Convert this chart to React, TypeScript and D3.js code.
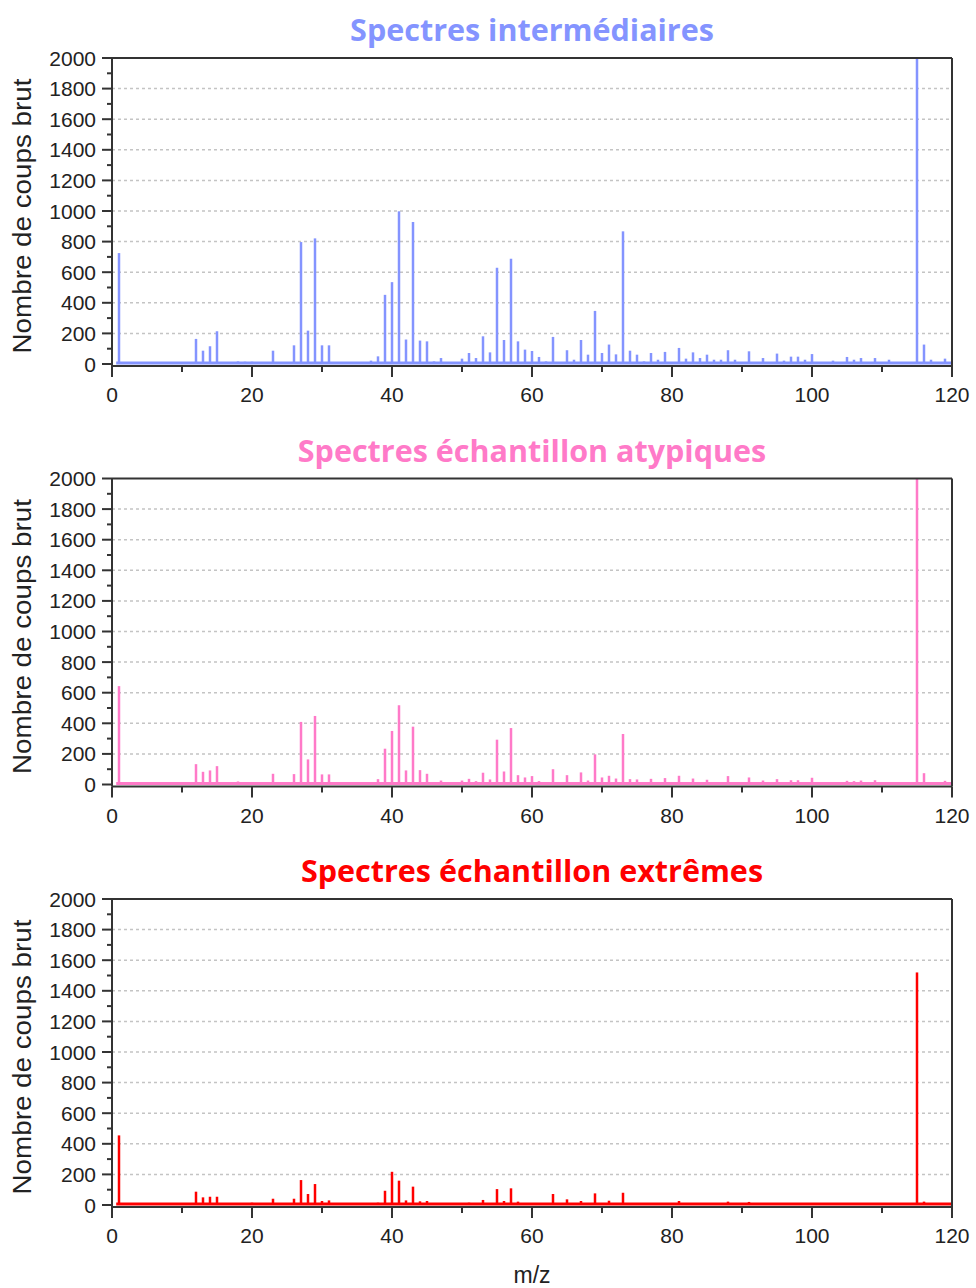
import React from "react";
import * as d3 from "d3";

// ---- data ----
const panelTitles = [
  "Spectres intermédiaires",
  "Spectres échantillon atypiques",
  "Spectres échantillon extrêmes",
];
const seriesColors = ["#8494ff", "#ff7ac8", "#ff0000"];

const xTicksMajor = [0, 20, 40, 60, 80, 100, 120];
const yTicksMajor = [0, 200, 400, 600, 800, 1000, 1200, 1400, 1600, 1800, 2000];
const yAxisTitle = "Nombre de coups brut";
const xAxisTitle = "m/z";

// [m/z, counts]
const intermediateSpectrum: [number, number][] = [
  [1, 725], [12, 164], [13, 87], [14, 116], [15, 214], [18, 17], [19, 15], [20, 15],
  [23, 87], [24, 12], [25, 12], [26, 122], [27, 797], [28, 218], [29, 821], [30, 122],
  [31, 122], [37, 22], [38, 50], [39, 452], [40, 535], [41, 998], [42, 160], [43, 928],
  [44, 153], [45, 148], [46, 17], [47, 39], [50, 35], [51, 72], [52, 39], [53, 181],
  [54, 76], [55, 629], [56, 157], [57, 688], [58, 148], [59, 94], [60, 85], [61, 46],
  [62, 17], [63, 177], [65, 90], [66, 28], [67, 157], [68, 61], [69, 347], [70, 72],
  [71, 127], [72, 63], [73, 867], [74, 87], [75, 61], [76, 17], [77, 72], [78, 28],
  [79, 79], [81, 105], [82, 35], [83, 76], [84, 39], [85, 61], [86, 28], [87, 28],
  [88, 90], [89, 28], [91, 83], [93, 39], [95, 68], [96, 22], [97, 48], [98, 48],
  [99, 28], [100, 65], [103, 22], [105, 46], [106, 28], [107, 39], [109, 39], [111, 28],
  [115, 2000], [116, 127], [117, 28], [119, 35],
];

const atypicalSpectrum: [number, number][] = [
  [1, 643], [12, 133], [13, 83], [14, 92], [15, 120], [18, 20], [19, 15], [20, 15],
  [23, 70], [26, 68], [27, 409], [28, 164], [29, 448], [30, 66], [31, 66], [38, 35],
  [39, 234], [40, 350], [41, 518], [42, 92], [43, 378], [44, 94], [45, 70], [46, 15],
  [47, 26], [50, 26], [51, 37], [52, 22], [53, 77], [54, 33], [55, 293], [56, 85],
  [57, 369], [58, 61], [59, 46], [60, 55], [61, 22], [63, 100], [65, 61], [67, 79],
  [68, 26], [69, 197], [70, 46], [71, 57], [72, 39], [73, 330], [74, 35], [75, 33],
  [77, 37], [79, 42], [81, 57], [83, 39], [85, 31], [88, 55], [91, 46], [93, 26],
  [95, 35], [97, 28], [98, 28], [100, 44], [105, 24], [106, 22], [107, 26], [109, 28],
  [115, 2000], [116, 74], [119, 24],
];

const extremeSpectrum: [number, number][] = [
  [1, 455], [12, 87], [13, 50], [14, 54], [15, 54], [20, 15], [23, 41], [26, 41],
  [27, 163], [28, 72], [29, 137], [30, 26], [31, 30], [38, 15], [39, 93], [40, 217],
  [41, 159], [42, 30], [43, 120], [44, 24], [45, 26], [51, 15], [53, 33], [55, 104],
  [56, 26], [57, 109], [58, 22], [63, 72], [65, 37], [67, 26], [69, 76], [71, 28],
  [73, 80], [81, 26], [88, 22], [91, 20], [115, 1520], [116, 22],
];

const spectra = [intermediateSpectrum, atypicalSpectrum, extremeSpectrum];

// ---- layout ----
const W = 976;
const H = 1288;
const plotLeft = 112;
const plotRight = 952;
const panelTop0 = 58;
const panelStep = 420.5;
const plotH = 306;
const axisColor = "#333";

const x = d3.scaleLinear().domain([0, 120]).range([plotLeft, plotRight]);
const xMinor = d3.range(0, 121, 10);
const yMinor = d3.range(0, 2001, 100);

function Panel({ idx }: { idx: number }) {
  const top = panelTop0 + idx * panelStep;
  const y = d3.scaleLinear().domain([0, 2000]).range([top + plotH, top]);
  const color = seriesColors[idx];
  const data = spectra[idx];
  const axisY = y(0) + 2;
  return (
    <g>
      <text
        x={(plotLeft + plotRight) / 2}
        y={top - 17}
        textAnchor="middle"
        fontFamily="'Open Sans', Lato, sans-serif"
        fontWeight="bold"
        fontSize={30.5}
        fill={color}
      >
        {panelTitles[idx]}
      </text>
      {/* grid */}
      {yTicksMajor
        .filter((v) => v > 0 && v < 2000)
        .map((v) => (
          <line
            key={"g" + v}
            x1={plotLeft}
            x2={plotRight}
            y1={y(v)}
            y2={y(v)}
            stroke="#c4c4c4"
            strokeWidth={1.5}
            strokeDasharray="3,3"
          />
        ))}
      {/* baseline */}
      <line
        x1={x(0.6)}
        x2={x(120)}
        y1={y(0) - 1}
        y2={y(0) - 1}
        stroke={color}
        strokeWidth={3}
      />
      {/* peaks */}
      {data.map(([mz, v]) => (
        <line
          key={"p" + mz}
          x1={x(mz)}
          x2={x(mz)}
          y1={y(0)}
          y2={y(Math.min(v, 2000))}
          stroke={color}
          strokeWidth={2.5}
        />
      ))}
      {/* frame */}
      <line x1={plotLeft} x2={plotRight} y1={top} y2={top} stroke={axisColor} strokeWidth={2} />
      <line x1={plotRight} x2={plotRight} y1={top} y2={axisY} stroke={axisColor} strokeWidth={2} />
      <line x1={plotLeft} x2={plotRight} y1={axisY} y2={axisY} stroke={axisColor} strokeWidth={2} />
      <line x1={plotLeft} x2={plotLeft} y1={top} y2={axisY} stroke={axisColor} strokeWidth={2} />
      {/* y ticks */}
      {yMinor.map((v) => {
        const major = v % 200 === 0;
        return (
          <line
            key={"yt" + v}
            x1={plotLeft - (major ? 10 : 5)}
            x2={plotLeft}
            y1={y(v)}
            y2={y(v)}
            stroke={axisColor}
            strokeWidth={2}
          />
        );
      })}
      {yTicksMajor.map((v) => (
        <text
          key={"yl" + v}
          x={plotLeft - 16}
          y={y(v)}
          dy="0.36em"
          textAnchor="end"
          fontFamily="'Liberation Sans', Arial, sans-serif"
          fontSize={21}
          fill="#222"
        >
          {v}
        </text>
      ))}
      {/* x ticks */}
      {xMinor.map((v) => {
        const major = v % 20 === 0;
        return (
          <line
            key={"xt" + v}
            x1={x(v)}
            x2={x(v)}
            y1={axisY}
            y2={axisY + (major ? 11 : 6)}
            stroke={axisColor}
            strokeWidth={2}
          />
        );
      })}
      {xTicksMajor.map((v) => (
        <text
          key={"xl" + v}
          x={x(v)}
          y={axisY + 36}
          textAnchor="middle"
          fontFamily="'Liberation Sans', Arial, sans-serif"
          fontSize={21}
          fill="#222"
        >
          {v}
        </text>
      ))}
      <text
        transform={`translate(${31},${(top + top + plotH) / 2 + 5}) rotate(-90)`}
        textAnchor="middle"
        fontFamily="'Liberation Sans', Arial, sans-serif"
        fontSize={25}
        textLength={275}
        lengthAdjust="spacingAndGlyphs"
        fill="#222"
      >
        {yAxisTitle}
      </text>
    </g>
  );
}

export default function App() {
  return (
    <svg
      width={W}
      height={H}
      style={{ position: "absolute", left: 0, top: 0, background: "#fff" }}
    >
      <rect width={W} height={H} fill="#fff" />
      {[0, 1, 2].map((i) => (
        <Panel key={i} idx={i} />
      ))}
      <text
        x={(plotLeft + plotRight) / 2}
        y={1283}
        textAnchor="middle"
        fontFamily="'Liberation Sans', Arial, sans-serif"
        fontSize={23}
        fill="#222"
      >
        {xAxisTitle}
      </text>
    </svg>
  );
}
